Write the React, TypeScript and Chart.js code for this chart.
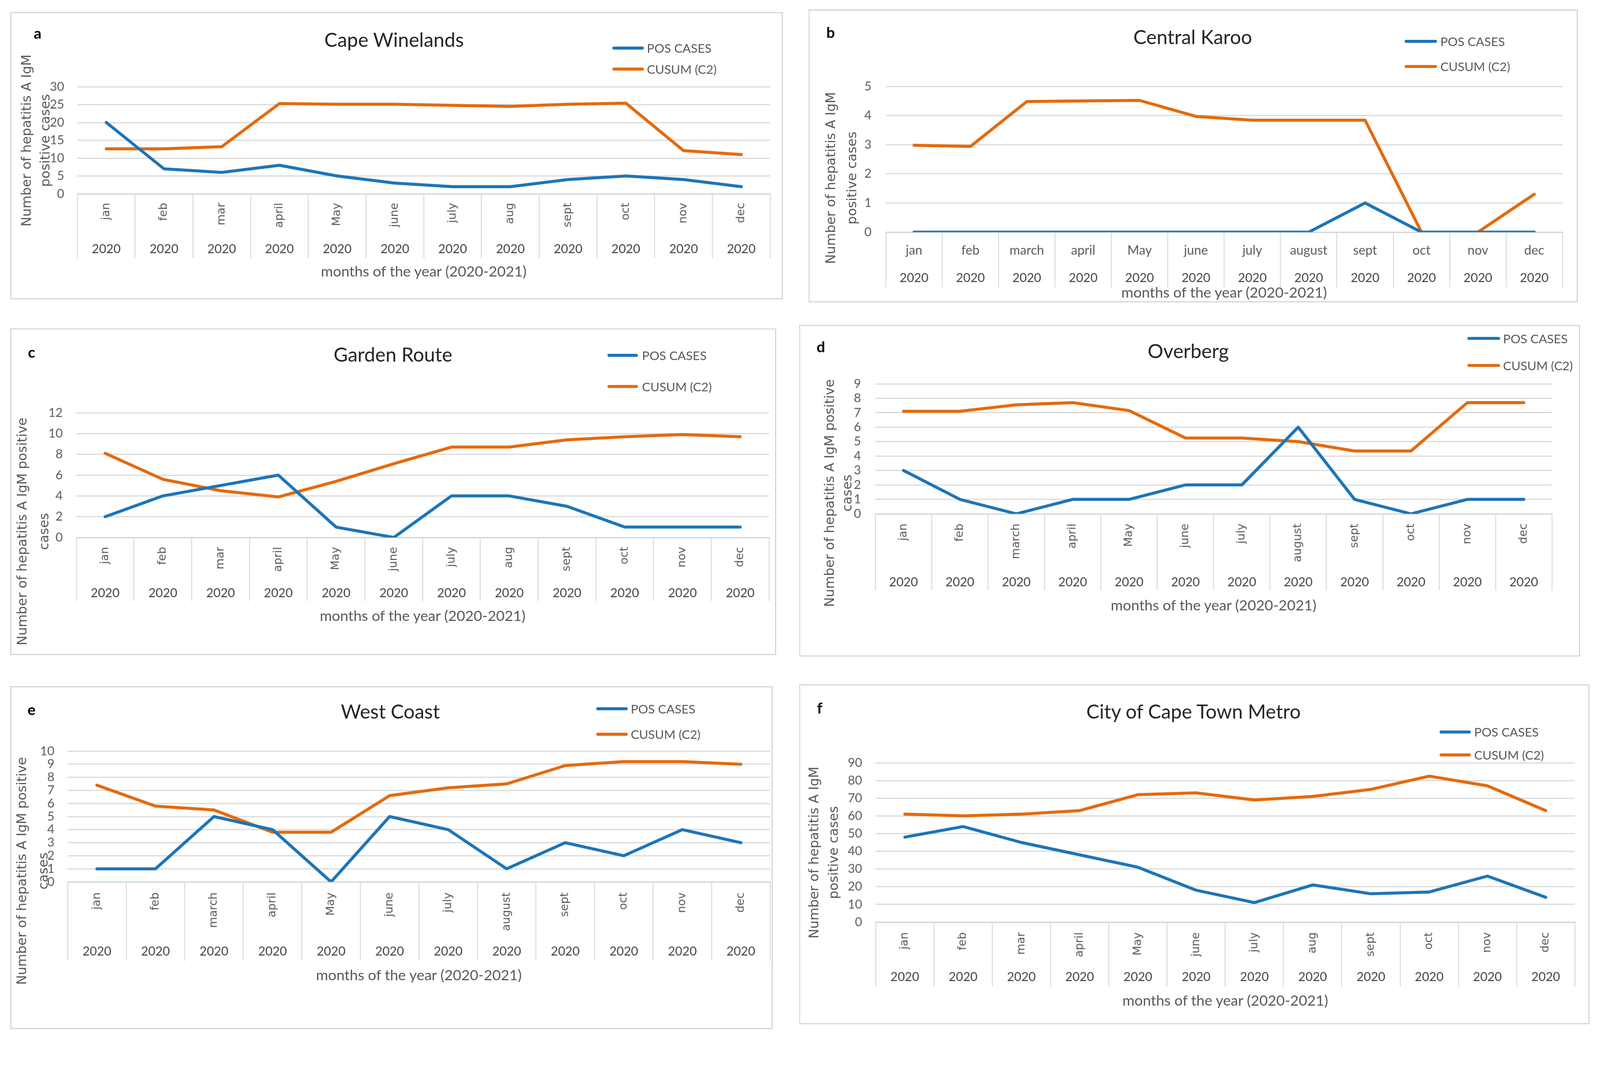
import React, { useEffect, useRef } from "react";
import { Chart, registerables } from "chart.js";

Chart.register(...registerables);

// ---------------- data ----------------
const MONTHS_SHORT = ["jan", "feb", "mar", "april", "May", "june", "july", "aug", "sept", "oct", "nov", "dec"];
const MONTHS_LONG = ["jan", "feb", "march", "april", "May", "june", "july", "august", "sept", "oct", "nov", "dec"];
const YEARS = ["2020", "2020", "2020", "2020", "2020", "2020", "2020", "2020", "2020", "2020", "2020", "2020"];

const POS_A = [20, 7, 6, 8, 5, 3, 2, 2, 4, 5, 4, 2];
const CUSUM_A = [12.6, 12.6, 13.2, 25.3, 25.1, 25.1, 24.8, 24.5, 25.1, 25.4, 12.1, 11.0];

const POS_B = [0, 0, 0, 0, 0, 0, 0, 0, 1, 0, 0, 0];
const CUSUM_B = [2.98, 2.94, 4.48, 4.5, 4.52, 3.97, 3.84, 3.84, 3.84, 0, 0, 1.3];

const POS_C = [2, 4, 5, 6, 1, 0, 4, 4, 3, 1, 1, 1];
const CUSUM_C = [8.1, 5.6, 4.5, 3.9, 5.4, 7.1, 8.7, 8.7, 9.4, 9.7, 9.9, 9.7];

const POS_D = [3, 1, 0, 1, 1, 2, 2, 6, 1, 0, 1, 1];
const CUSUM_D = [7.1, 7.1, 7.55, 7.7, 7.15, 5.25, 5.25, 5.0, 4.35, 4.35, 7.7, 7.7];

const POS_E = [1, 1, 5, 4, 0, 5, 4, 1, 3, 2, 4, 3];
const CUSUM_E = [7.4, 5.8, 5.5, 3.8, 3.8, 6.6, 7.2, 7.5, 8.9, 9.2, 9.2, 9.0];

const POS_F = [48, 54, 45, 38, 31, 18, 11, 21, 16, 17, 26, 14];
const CUSUM_F = [61, 60, 61, 63, 72, 73, 69, 71, 75, 82.5, 77, 63];

const SERIES_NAMES = ["POS CASES", "CUSUM (C2)"];
const X_TITLE = "months of the year (2020-2021)";
const Y_TITLE_2L = ["Number of hepatitis A IgM", "positive cases"];
const Y_TITLE_2L_B = ["Number of hepatitis A IgM positive", "cases"];

// ---------------- styles ----------------
const PAGE_W = 4259;
const PAGE_H = 2768;
const BLUE = "#1C74B7";
const ORANGE = "#E4690C";
const GRID = "#D9D9D9";
const SEP = "#D9D9D9";
const TXT = "#595959";
const DARK = "#404040";
const CAL = "Lato, 'Liberation Sans', Arial, sans-serif";
const VER = "'DejaVu Sans', Verdana, sans-serif";

type Cfg = {
  letter: string;
  title: string;
  months: string[];
  pos: number[];
  cusum: number[];
  yMax: number;
  step: number;
  rotated: boolean;
  box: number[];
  plot: number[];
  tickRight: number;
  monthPos: number;
  yearCenter: number;
  sepBottom: number;
  xTitleY: number;
  titleXY: number[];
  letterXY: number[];
  legend: number[]; // swatchLeft, swatchRight, textLeft, row1, row2
  yTitle: string[];
  yTitleX: number[];
  yTitleY: number;
};

const PANELS: Cfg[] = [
  {
    letter: "a", title: "Cape Winelands", months: MONTHS_SHORT, pos: POS_A, cusum: CUSUM_A,
    yMax: 30, step: 5, rotated: true,
    box: [27, 32, 2084, 797], plot: [206, 231, 2050, 516], tickRight: 171,
    monthPos: 540, yearCenter: 663, sepBottom: 688, xTitleY: 722,
    titleXY: [1049, 105], letterXY: [100, 88], legend: [1630, 1714, 1722, 128, 184],
    yTitle: Y_TITLE_2L, yTitleX: [71, 121], yTitleY: 374,
  },
  {
    letter: "b", title: "Central Karoo", months: MONTHS_LONG, pos: POS_B, cusum: CUSUM_B,
    yMax: 5, step: 1, rotated: false,
    box: [2152, 25, 4200, 805], plot: [2358, 230, 4159, 618], tickRight: 2320,
    monthPos: 667, yearCenter: 740, sepBottom: 765, xTitleY: 778,
    titleXY: [3175, 97], letterXY: [2211, 86], legend: [3739, 3825, 3834, 110, 177],
    yTitle: Y_TITLE_2L, yTitleX: [2212, 2268], yTitleY: 474,
  },
  {
    letter: "c", title: "Garden Route", months: MONTHS_SHORT, pos: POS_C, cusum: CUSUM_C,
    yMax: 12, step: 2, rotated: true,
    box: [27, 874, 2066, 1744], plot: [203, 1099, 2047, 1431], tickRight: 167,
    monthPos: 1456, yearCenter: 1579, sepBottom: 1600, xTitleY: 1639,
    titleXY: [1046, 943], letterXY: [84, 937], legend: [1617, 1698, 1709, 946, 1029],
    yTitle: Y_TITLE_2L_B, yTitleX: [59, 117], yTitleY: 1415,
  },
  {
    letter: "d", title: "Overberg", months: MONTHS_LONG, pos: POS_D, cusum: CUSUM_D,
    yMax: 9, step: 1, rotated: true,
    box: [2127, 865, 4206, 1748], plot: [2330, 1022, 4131, 1368], tickRight: 2292,
    monthPos: 1394, yearCenter: 1550, sepBottom: 1572, xTitleY: 1611,
    titleXY: [3163, 934], letterXY: [2185, 923], legend: [3906, 3993, 4001, 901, 973],
    yTitle: Y_TITLE_2L_B, yTitleX: [2208, 2255], yTitleY: 1313,
  },
  {
    letter: "e", title: "West Coast", months: MONTHS_LONG, pos: POS_E, cusum: CUSUM_E,
    yMax: 10, step: 1, rotated: true,
    box: [27, 1827, 2057, 2740], plot: [180, 2000, 2050, 2348], tickRight: 145,
    monthPos: 2376, yearCenter: 2533, sepBottom: 2558, xTitleY: 2595,
    titleXY: [1039, 1893], letterXY: [84, 1889], legend: [1587, 1671, 1679, 1887, 1955],
    yTitle: Y_TITLE_2L_B, yTitleX: [58, 115], yTitleY: 2319,
  },
  {
    letter: "f", title: "City of Cape Town Metro", months: MONTHS_SHORT, pos: POS_F, cusum: CUSUM_F,
    yMax: 90, step: 10, rotated: true,
    box: [2127, 1822, 4231, 2727], plot: [2331, 2031, 4192, 2455], tickRight: 2295,
    monthPos: 2482, yearCenter: 2601, sepBottom: 2627, xTitleY: 2663,
    titleXY: [3177, 1893], letterXY: [2182, 1885], legend: [3832, 3915, 3924, 1949, 2010],
    yTitle: Y_TITLE_2L, yTitleX: [2167, 2219], yTitleY: 2270,
  },
];

const TICK_SIZE = 33;
const YEAR_SIZE = 33;
const MONTH_ROT_SIZE = 30;
const MONTH_H_SIZE = 34;

function PanelChart({ cfg }: { cfg: Cfg }) {
  const ref = useRef<HTMLCanvasElement>(null);
  const [L, T, R, B] = cfg.box;
  const [pl, pt, pr, pb] = cfg.plot;
  const W = R - L;
  const H = B - T;

  useEffect(() => {
    if (!ref.current) return;
    const split = cfg.yearCenter - 30;
    const H1 = split - pb;
    const H2 = cfg.sepBottom - split;
    const rot = cfg.rotated ? 90 : 0;
    const monthFont = cfg.rotated
      ? { family: VER, size: MONTH_ROT_SIZE }
      : { family: CAL, size: MONTH_H_SIZE };
    const monthPad = cfg.rotated
      ? cfg.monthPos - pb - H1
      : cfg.monthPos - pb - 0.6 * MONTH_H_SIZE - H1;
    const yearPad = cfg.yearCenter - split - 0.6 * YEAR_SIZE - H2;

    const lineDs = (label: string, data: number[], color: string) => ({
      label,
      data,
      borderColor: color,
      backgroundColor: color,
      borderWidth: 8,
      pointRadius: 0,
      tension: 0,
      borderJoinStyle: "round" as const,
      borderCapStyle: "round" as const,
      fill: false,
    });

    const chart = new Chart(ref.current, {
      type: "line",
      data: {
        labels: cfg.months,
        datasets: [lineDs(SERIES_NAMES[0], cfg.pos, BLUE), lineDs(SERIES_NAMES[1], cfg.cusum, ORANGE)],
      },
      options: {
        animation: false,
        responsive: false,
        devicePixelRatio: 1,
        layout: { padding: { left: 0, top: pt - T, right: R - pr, bottom: B - cfg.sepBottom } },
        plugins: { legend: { display: false }, title: { display: false }, tooltip: { enabled: false } },
        scales: {
          x: {
            type: "category",
            position: "bottom",
            weight: 0,
            offset: true,
            grid: { display: true, drawOnChartArea: false, drawTicks: true, tickLength: H1, offset: true, color: SEP, lineWidth: 2.5 },
            border: { display: true, color: "#D0D0D0", width: 3 },
            ticks: { autoSkip: false, minRotation: rot, maxRotation: rot, padding: monthPad, font: monthFont, color: TXT },
            afterFit: (s: any) => { s.height = H1; },
          },
          x2: {
            type: "category",
            position: "bottom",
            weight: 1,
            offset: true,
            labels: YEARS,
            grid: { display: true, drawOnChartArea: false, drawTicks: true, tickLength: H2, offset: true, color: SEP, lineWidth: 2.5 },
            border: { display: false },
            ticks: { autoSkip: false, minRotation: 0, maxRotation: 0, padding: yearPad, font: { family: CAL, size: YEAR_SIZE }, color: DARK },
            afterFit: (s: any) => { s.height = H2; },
          },
          y: {
            position: "left",
            min: 0,
            max: cfg.yMax,
            ticks: {
              stepSize: cfg.step,
              maxTicksLimit: 20,
              padding: pl - cfg.tickRight,
              font: { family: CAL, size: TICK_SIZE, lineHeight: 0.8 },
              color: TXT,
            },
            grid: { color: GRID, lineWidth: 3, drawTicks: false },
            border: { display: false },
            afterFit: (s: any) => { s.width = pl - L; },
          },
        },
      },
    } as any);
    return () => chart.destroy();
  }, []);

  const abs = (o: React.CSSProperties): React.CSSProperties => ({ position: "absolute", whiteSpace: "nowrap", ...o });
  const [sl, sr, tl, r1, r2] = cfg.legend;
  const plotCenterX = (pl + pr) / 2;

  return (
    <>
      <div style={abs({ left: L, top: T, width: W, height: H, background: "#fff" })}>
        <canvas ref={ref} width={W} height={H} style={{ width: W, height: H, display: "block" }} />
      </div>
      <div style={abs({ left: L, top: T, width: W, height: H, boxSizing: "border-box", border: "3px solid #D4D4D4" })} />
      <div style={abs({ left: cfg.letterXY[0], top: cfg.letterXY[1], transform: "translate(-50%,-50%)", font: `bold 40px ${CAL}`, color: "#000" })}>{cfg.letter}</div>
      <div style={abs({ left: cfg.titleXY[0], top: cfg.titleXY[1], transform: "translate(-50%,-50%)", font: `52px ${CAL}`, color: "#262626", lineHeight: 1 })}>{cfg.title}</div>
      {[0, 1].map((i) => (
        <React.Fragment key={i}>
          <div style={abs({ left: sl, top: (i === 0 ? r1 : r2) - 4, width: sr - sl, height: 8, borderRadius: 4, background: i === 0 ? BLUE : ORANGE })} />
          <div style={abs({ left: tl, top: i === 0 ? r1 : r2, transform: "translateY(-50%)", font: `33px ${CAL}`, color: TXT, lineHeight: 1 })}>{SERIES_NAMES[i]}</div>
        </React.Fragment>
      ))}
      {cfg.yTitle.map((line, i) => (
        <div key={line} style={abs({ left: cfg.yTitleX[i], top: cfg.yTitleY, transform: "translate(-50%,-50%) rotate(-90deg)", font: `35px ${VER}`, color: TXT, lineHeight: 1 })}>{line}</div>
      ))}
      <div style={abs({ left: plotCenterX, top: cfg.xTitleY, transform: "translate(-50%,-50%)", font: `39px ${CAL}`, color: TXT, lineHeight: 1 })}>{X_TITLE}</div>
    </>
  );
}

export default function App() {
  const iw = typeof window !== "undefined" ? window.innerWidth : PAGE_W;
  const ih = typeof window !== "undefined" ? window.innerHeight : PAGE_H;
  const k = Math.min(iw / PAGE_W, ih / PAGE_H, 1);
  return (
    <div style={{ position: "absolute", left: 0, top: 0, width: PAGE_W * k, height: PAGE_H * k, overflow: "hidden", background: "#fff" }}>
      <div style={{ position: "absolute", left: 0, top: 0, width: PAGE_W, height: PAGE_H, transform: `scale(${k})`, transformOrigin: "0 0", background: "#fff" }}>
        {PANELS.map((p) => (
          <PanelChart key={p.letter} cfg={p} />
        ))}
      </div>
    </div>
  );
}
